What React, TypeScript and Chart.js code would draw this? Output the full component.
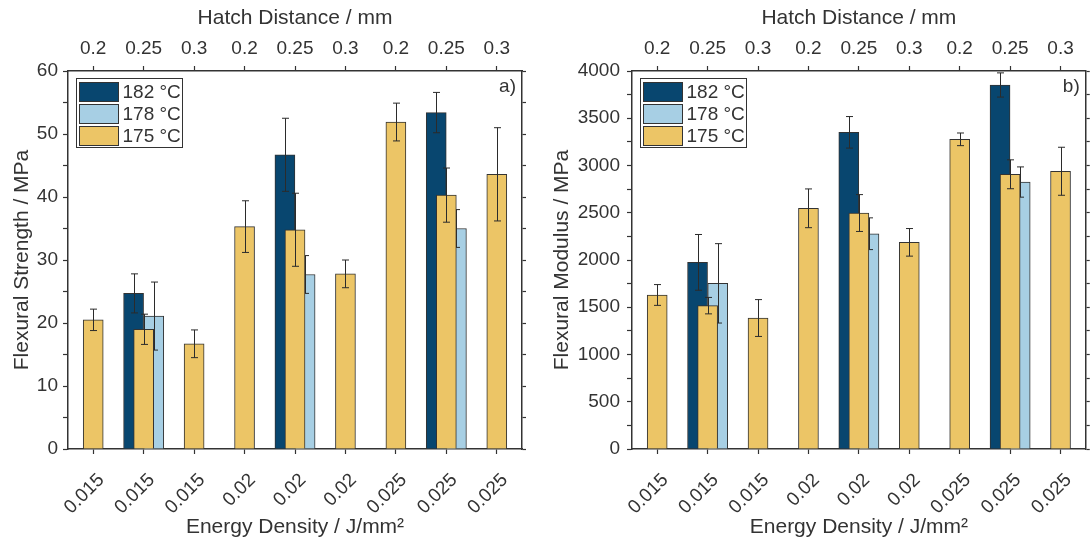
import React, { useEffect, useRef } from 'react';
import { Chart, registerables } from 'chart.js';

Chart.register(...registerables);

// ---------- data ----------
const energyDensity = ['0.015', '0.015', '0.015', '0.02', '0.02', '0.02', '0.025', '0.025', '0.025'];
const hatchDistance = ['0.2', '0.25', '0.3', '0.2', '0.25', '0.3', '0.2', '0.25', '0.3'];
const seriesLabels = ['182 °C', '178 °C', '175 °C'];

const strength182 = [null, 24.7, null, null, 46.7, null, null, 53.4, null];
const strength182Err = [null, 3.1, null, null, 5.8, null, null, 3.2, null];
const strength178 = [null, 21.1, null, null, 27.7, null, null, 35.0, null];
const strength178Err = [null, 5.4, null, null, 3.0, null, null, 3.0, null];
const strength175 = [20.5, 19.0, 16.7, 35.3, 34.8, 27.8, 51.9, 40.3, 43.6];
const strength175Err = [1.7, 2.4, 2.2, 4.1, 5.8, 2.2, 3.0, 4.3, 7.4];

const modulus182 = [null, 1975, null, null, 3351, null, null, 3852, null];
const modulus182Err = [null, 295, null, null, 167, null, null, 128, null];
const modulus178 = [null, 1753, null, null, 2278, null, null, 2825, null];
const modulus178Err = [null, 420, null, null, 168, null, null, 160, null];
const modulus175 = [1630, 1517, 1386, 2547, 2497, 2187, 3277, 2907, 2939];
const modulus175Err = [110, 87, 195, 205, 195, 146, 67, 153, 254];

// ---------- style ----------
const FONT = '"Liberation Sans", Arial, Helvetica, sans-serif';
const TEXT = '#333333';
const AXIS = '#333333';
const COLORS = ['#08466f', '#a7cfe4', '#ecc566'];
const SHIFTS = [-0.2, 0.2, 0];

type Num = number | null;

function makePoints(vals: Num[], errs: Num[], shift: number) {
  const pts: any[] = [];
  vals.forEach((v, i) => {
    if (v != null) pts.push({ x: i + shift, y: v, e: errs[i] });
  });
  return pts;
}

const errorBarPlugin = {
  id: 'errorBars',
  afterDatasetDraw(chart: any, args: any) {
    const meta = args.meta;
    const ds = chart.data.datasets[args.index];
    const yS = chart.scales[meta.yAxisID];
    const ctx = chart.ctx;
    ctx.save();
    ctx.strokeStyle = '#2b2b2b';
    ctx.lineWidth = 1;
    meta.data.forEach((el: any, j: number) => {
      const p = ds.data[j];
      if (!p || p.e == null) return;
      const x = Math.round(el.x) + 0.5;
      const t = yS.getPixelForValue(p.y + p.e);
      const b = yS.getPixelForValue(p.y - p.e);
      ctx.beginPath();
      ctx.moveTo(x, t);
      ctx.lineTo(x, b);
      ctx.moveTo(x - 3.5, t);
      ctx.lineTo(x + 3.5, t);
      ctx.moveTo(x - 3.5, b);
      ctx.lineTo(x + 3.5, b);
      ctx.stroke();
    });
    ctx.restore();
  },
};

const overlayPlugin = {
  id: 'overlay',
  afterDraw(chart: any) {
    const ctx = chart.ctx;
    const ca = chart.chartArea;
    const opts = chart.options.plugins.overlay || {};
    ctx.save();
    // legend
    const bx = Math.round(ca.left) + 8.5;
    const by = Math.round(ca.top) + 7.5;
    const bw = 106;
    const bh = 69;
    ctx.fillStyle = '#ffffff';
    ctx.fillRect(bx, by, bw, bh);
    ctx.strokeStyle = '#333333';
    ctx.lineWidth = 1;
    ctx.strokeRect(bx, by, bw, bh);
    ctx.font = `19px ${FONT}`;
    ctx.textBaseline = 'middle';
    ctx.textAlign = 'left';
    chart.data.datasets.forEach((ds: any, i: number) => {
      const ry = by + 4 + i * 22;
      ctx.fillStyle = ds.backgroundColor;
      ctx.fillRect(bx + 3, ry, 39, 19);
      ctx.strokeStyle = '#333333';
      ctx.strokeRect(bx + 3, ry, 39, 19);
      ctx.fillStyle = TEXT;
      ctx.fillText(ds.label, bx + 46, ry + 10.5);
    });
    // panel letter
    ctx.font = `19px ${FONT}`;
    ctx.textAlign = 'right';
    ctx.fillStyle = TEXT;
    ctx.fillText(opts.tag || '', ca.right - 6, ca.top + 16);
    ctx.restore();
  },
};

type PanelProps = {
  s182: Num[]; e182: Num[];
  s178: Num[]; e178: Num[];
  s175: Num[]; e175: Num[];
  yMax: number; yStep: number; yTitle: string; tag: string;
  leftWidth: number; rightWidth: number; yTitlePad: number; yTickPad: number;
};

function Panel(props: PanelProps) {
  const ref = useRef<HTMLCanvasElement>(null);
  useEffect(() => {
    const { s182, e182, s178, e178, s175, e175, yMax, yStep, yTitle, tag, leftWidth, rightWidth, yTitlePad, yTickPad } = props;
    const tickFont = { family: FONT, size: 19 };
    const titleFont = { family: FONT, size: 21 };
    const xTickList = () => energyDensity.map((_, i) => ({ value: i }));
    const yTickList = () => {
      const t: any[] = [];
      for (let v = 0; v <= yMax + 1e-9; v += yStep / 2) t.push({ value: v });
      return t;
    };
    const border = { display: true, color: AXIS, width: 1.5 };
    const grid = { display: true, drawOnChartArea: false, drawTicks: true, tickLength: 5, color: AXIS, offset: false, tickWidth: 1.2 };
    const series = [
      [s182, e182],
      [s178, e178],
      [s175, e175],
    ];
    const chart = new Chart(ref.current as HTMLCanvasElement, {
      type: 'bar',
      data: {
        datasets: series.map((s, i) => ({
          label: seriesLabels[i],
          data: makePoints(s[0], s[1], SHIFTS[i]),
          backgroundColor: COLORS[i],
          borderColor: '#333333',
          borderWidth: 1,
          grouped: false,
          barThickness: 20,
          order: 2 - i,
        })) as any,
      },
      options: {
        animation: false,
        responsive: false,
        devicePixelRatio: 1,
        layout: { padding: 0 },
        plugins: {
          legend: { display: false },
          tooltip: { enabled: false },
          overlay: { tag },
        } as any,
        scales: {
          x: {
            type: 'linear',
            position: 'bottom',
            min: -0.5,
            max: 8.5,
            offset: false,
            afterBuildTicks: (s: any) => { s.ticks = xTickList(); },
            ticks: {
              autoSkip: false,
              minRotation: 45,
              maxRotation: 45,
              padding: 15,
              labelOffset: 8,
              font: tickFont,
              color: TEXT,
              callback: (v: any) => energyDensity[v] ?? '',
            },
            grid,
            border,
            title: { display: true, text: 'Energy Density / J/mm²', font: titleFont, color: TEXT, padding: { top: 0, bottom: 2 } },
            afterFit: (s: any) => { s.height = 93; },
          },
          x2: {
            type: 'linear',
            position: 'top',
            min: -0.5,
            max: 8.5,
            offset: false,
            afterBuildTicks: (s: any) => { s.ticks = xTickList(); },
            ticks: {
              autoSkip: false,
              minRotation: 0,
              maxRotation: 0,
              padding: 6,
              font: tickFont,
              color: TEXT,
              callback: (v: any) => hatchDistance[v] ?? '',
            },
            grid,
            border,
            title: { display: true, text: 'Hatch Distance / mm', font: titleFont, color: TEXT, padding: { top: 6, bottom: 0 } },
            afterFit: (s: any) => { s.height = 71; },
          },
          y: {
            type: 'linear',
            position: 'left',
            min: 0,
            max: yMax,
            afterBuildTicks: (s: any) => { s.ticks = yTickList(); },
            ticks: {
              autoSkip: false,
              padding: yTickPad,
              font: tickFont,
              color: TEXT,
              callback: (v: any) => (Math.abs(v % yStep) < 1e-9 ? String(v) : ''),
            },
            grid: { ...grid, tickLength: 5 },
            border,
            title: { display: true, text: yTitle, font: titleFont, color: TEXT, padding: { top: yTitlePad, bottom: 0 } },
            afterFit: (s: any) => { s.width = leftWidth; },
          },
          y2: {
            type: 'linear',
            position: 'right',
            min: 0,
            max: yMax,
            afterBuildTicks: (s: any) => { s.ticks = yTickList(); },
            ticks: { autoSkip: false, font: tickFont, callback: () => '' },
            grid: { ...grid, tickLength: 4 },
            border,
            afterFit: (s: any) => { s.width = rightWidth; },
          },
        } as any,
      },
      plugins: [errorBarPlugin, overlayPlugin],
    });
    return () => chart.destroy();
  }, []);
  return <canvas ref={ref} width={546} height={542} style={{ display: 'block', width: 546, height: 542 }} />;
}

export default function App() {
  return (
    <div style={{ position: 'absolute', left: 0, top: 0, width: 1092, height: 542, background: '#ffffff' }}>
      <div style={{ position: 'absolute', left: 0, top: 0 }}>
        <Panel
          s182={strength182} e182={strength182Err}
          s178={strength178} e178={strength178Err}
          s175={strength175} e175={strength175Err}
          yMax={60} yStep={10} yTitle="Flexural Strength / MPa" tag="a)"
          leftWidth={68} rightWidth={24} yTitlePad={10} yTickPad={5}
        />
      </div>
      <div style={{ position: 'absolute', left: 546, top: 0 }}>
        <Panel
          s182={modulus182} e182={modulus182Err}
          s178={modulus178} e178={modulus178Err}
          s175={modulus175} e175={modulus175Err}
          yMax={4000} yStep={500} yTitle="Flexural Modulus / MPa" tag="b)"
          leftWidth={86} rightWidth={5} yTitlePad={4} yTickPad={7}
        />
      </div>
    </div>
  );
}
